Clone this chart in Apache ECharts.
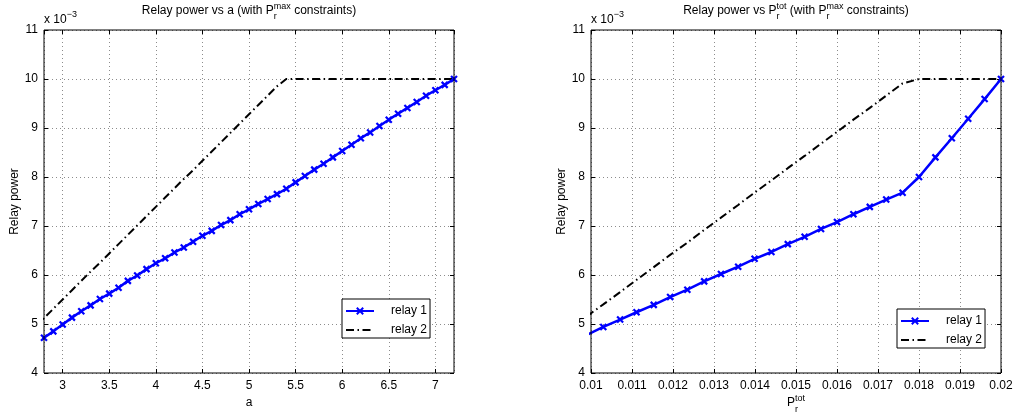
<!DOCTYPE html>
<html><head><meta charset="utf-8">
<script src="https://cdn.jsdelivr.net/npm/echarts@6/dist/echarts.min.js"></script>
<style>html,body{margin:0;padding:0;background:#fff}#c{width:1019px;height:417px}</style>
</head><body><div id="c"></div>
<script>
// ---- data (relay power in units of 1e-3) ----
const aValues = [2.7,2.8,2.9,3.0,3.1,3.2,3.3,3.4,3.5,3.6,3.7,3.8,3.9,4.0,4.1,4.2,4.3,4.4,4.5,4.6,4.7,4.8,4.9,5.0,5.1,5.2,5.3,5.4,5.5,5.6,5.7,5.8,5.9,6.0,6.1,6.2,6.3,6.4,6.5,6.6,6.7,6.8,6.9,7.0,7.1,7.2];
const leftRelay1 = [4.59,4.72,4.85,4.99,5.13,5.26,5.38,5.51,5.62,5.74,5.88,5.99,6.12,6.24,6.34,6.46,6.56,6.68,6.80,6.90,7.02,7.12,7.24,7.34,7.45,7.55,7.65,7.76,7.89,8.02,8.15,8.27,8.40,8.53,8.66,8.79,8.91,9.04,9.17,9.29,9.41,9.53,9.66,9.77,9.88,10.0];
const leftRelay2 = [4.93,5.12,5.31,5.50,5.69,5.88,6.07,6.25,6.44,6.63,6.82,7.01,7.20,7.39,7.58,7.77,7.96,8.14,8.33,8.52,8.71,8.90,9.09,9.28,9.47,9.66,9.85,10,10,10,10,10,10,10,10,10,10,10,10,10,10,10,10,10,10,10];
const ptotValues = [0.0099,0.0103,0.01071,0.01111,0.01153,0.01193,0.01235,0.01276,0.01317,0.01359,0.01399,0.0144,0.0148,0.01521,0.01561,0.016,0.0164,0.0168,0.0172,0.0176,0.018,0.0184,0.0188,0.0192,0.0196,0.02];
const rightRelay1 = [4.78,4.94,5.09,5.24,5.39,5.55,5.70,5.87,6.02,6.17,6.33,6.47,6.63,6.78,6.94,7.08,7.24,7.39,7.54,7.68,8.0,8.40,8.79,9.19,9.59,10.0];
const rightRelay2 = [5.16,5.40,5.65,5.90,6.16,6.41,6.66,6.92,7.17,7.43,7.68,7.93,8.18,8.43,8.68,8.92,9.17,9.41,9.66,9.91,10,10,10,10,10,10];
const seriesNames = ['relay 1','relay 2'];
const yLabelName = 'Relay power';

// ---- helpers ----
const FONT = '"Liberation Sans", Arial, Helvetica, sans-serif';
const mctx = document.createElement('canvas').getContext('2d');
function tw(t, s){ mctx.font = s + 'px ' + FONT; return mctx.measureText(t).width; }
function txt(t, x, y, s){
  return {type:'text', x:x, y:y, silent:true,
    style:{text:t, fontSize:s, fontFamily:FONT, fill:'#000', align:'left', verticalAlign:'middle'}};
}
// parts: {t} main text or {sup, sub} stacked scripts
function composite(parts, x, cy, anchor, main, small, supDy, subDy){
  const widths = parts.map(p => p.t !== undefined ? tw(p.t, main) : Math.max(p.sup ? tw(p.sup, small) : 0, p.sub ? tw(p.sub, small) : 0));
  const total = widths.reduce((a,b)=>a+b,0);
  let cx = anchor === 'center' ? x - total/2 : x;
  const els = [];
  parts.forEach((p,i)=>{
    if (p.t !== undefined) els.push(txt(p.t, cx, cy, main));
    else {
      if (p.sup) els.push(txt(p.sup, cx, cy + supDy, small));
      if (p.sub) els.push(txt(p.sub, cx, cy + subDy, small));
    }
    cx += widths[i];
  });
  return els;
}

const G = [{left:44, top:30, width:410, height:343},{left:591, top:30, width:410, height:343}];
const tickStyle = {show:true, inside:true, length:4, lineStyle:{color:'#000', width:1}};
const gridLine = {show:true, lineStyle:{color:'#8c8c8c', width:1, type:[1,3]}};
const labelStyle = {color:'#000', fontSize:12, fontFamily:FONT};

const xMain = [
  {gridIndex:0, type:'value', position:'bottom', min:2.8, max:7.2, splitNumber:9,
   axisLine:{show:false, onZero:false}, axisTick:tickStyle, splitLine:gridLine,
   axisLabel:Object.assign({margin:7, showMinLabel:false, showMaxLabel:false,
     formatter:v => (Math.abs(v*2 - Math.round(v*2)) < 1e-6 ? String(v) : '')}, labelStyle),
   name:'a', nameLocation:'middle', nameGap:21, nameTextStyle:{color:'#000', fontSize:12, fontFamily:FONT}},
  {gridIndex:1, type:'value', position:'bottom', min:0.01, max:0.02, interval:0.001,
   axisLine:{show:false, onZero:false}, axisTick:tickStyle, splitLine:gridLine,
   axisLabel:Object.assign({margin:7}, labelStyle)}
];
const xTop = [
  {gridIndex:0, type:'value', position:'top', min:2.8, max:7.2, splitNumber:9,
   axisLine:{show:false, onZero:false}, axisTick:tickStyle, splitLine:{show:false}, axisLabel:{show:false}},
  {gridIndex:1, type:'value', position:'top', min:0.01, max:0.02, interval:0.001,
   axisLine:{show:false, onZero:false}, axisTick:tickStyle, splitLine:{show:false}, axisLabel:{show:false}}
];
const yLeft = [0,1].map(g => ({gridIndex:g, type:'value', position:'left', min:4, max:11, interval:1,
   axisLine:{show:false}, axisTick:tickStyle, splitLine:gridLine,
   axisLabel:Object.assign({margin:6}, labelStyle),
   name:yLabelName, nameLocation:'middle', nameGap:23, nameTextStyle:{color:'#000', fontSize:12, fontFamily:FONT}}));
const yRight = [0,1].map(g => ({gridIndex:g, type:'value', position:'right', min:4, max:11, interval:1,
   axisLine:{show:false}, axisTick:tickStyle, splitLine:{show:false}, axisLabel:{show:false}}));

const xMark = 'path://M0,0L10,10M10,0L0,10';
function relay1(name, xs, ys, gi){
  return {name:name, type:'line', xAxisIndex:gi, yAxisIndex:gi, data:xs.map((x,i)=>[x, ys[i]]),
    symbol:xMark, symbolSize:6, showSymbol:true, clip:true, z:3,
    lineStyle:{color:'#0000ff', width:2.5},
    itemStyle:{color:'#0000ff', borderColor:'#0000ff', borderWidth:2.2}};
}
function relay2(name, xs, ys, gi){
  return {name:name, type:'line', xAxisIndex:gi, yAxisIndex:gi, data:xs.map((x,i)=>[x, ys[i]]),
    symbol:'none', clip:true, z:2,
    lineStyle:{color:'#000', width:2, type:[8,3.5,1.5,3.5]},
    itemStyle:{color:'rgba(0,0,0,0)', borderWidth:0}};
}

const graphics = [].concat(
  composite([{t:'Relay power vs a (with P'},{sup:'max', sub:'r'},{t:' constraints)'}], 249, 11, 'center', 12, 9, -4, 6),
  composite([{t:'Relay power vs P'},{sup:'tot', sub:'r'},{t:' (with P'},{sup:'max', sub:'r'},{t:' constraints)'}], 796, 11, 'center', 12, 9, -4, 6),
  composite([{t:'x 10'},{sup:'\u22123'}], 44, 20, 'left', 12, 9, -5, 0),
  composite([{t:'x 10'},{sup:'\u22123'}], 591, 20, 'left', 12, 9, -5, 0),
  composite([{t:'P'},{sup:'tot', sub:'r'}], 796, 403, 'center', 12, 9, -4, 7)
);

const legendData = [
  {name:seriesNames[0]},
  {name:seriesNames[1], itemStyle:{opacity:0}}
];
const legendCommon = {orient:'vertical', data:legendData, selectedMode:false,
  backgroundColor:'#fff', borderColor:'#000', borderWidth:1, borderRadius:0,
  padding:[6,3,2,3], itemWidth:28, itemHeight:8, itemGap:7,
  textStyle:{color:'#000', fontSize:12, fontFamily:FONT, padding:[0,0,0,12]}};

const option = {
  animation:false,
  backgroundColor:'#fff',
  grid:G.map(g => Object.assign({show:true, borderColor:'#000', borderWidth:1, backgroundColor:'transparent', z:5, containLabel:false}, g)),
  xAxis:[xMain[0], xMain[1], xTop[0], xTop[1]],
  yAxis:[yLeft[0], yLeft[1], yRight[0], yRight[1]],
  legend:[
    Object.assign({left:342, top:299}, legendCommon),
    Object.assign({left:897, top:309}, legendCommon)
  ],
  series:[
    relay1(seriesNames[0], aValues, leftRelay1, 0),
    relay2(seriesNames[1], aValues, leftRelay2, 0),
    relay1(seriesNames[0], ptotValues, rightRelay1, 1),
    relay2(seriesNames[1], ptotValues, rightRelay2, 1)
  ],
  graphic:graphics
};
const chart = echarts.init(document.getElementById('c'), null, {renderer:'canvas'});
chart.setOption(option);
</script></body></html>
